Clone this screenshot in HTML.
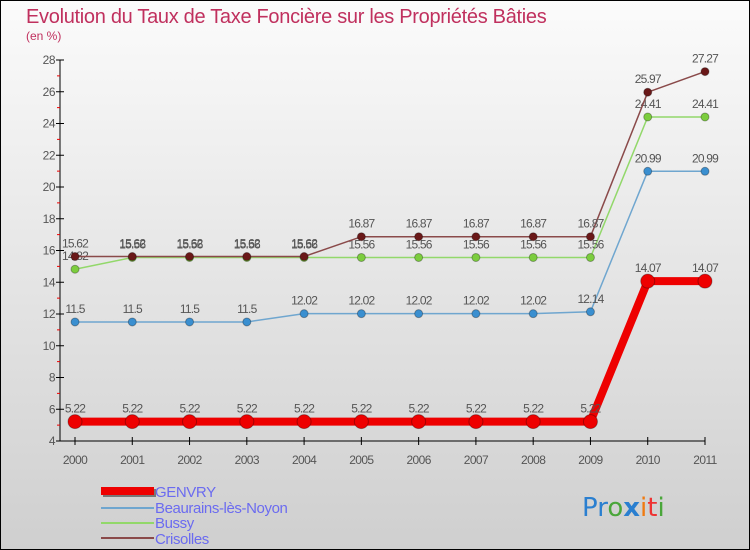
<!DOCTYPE html>
<html><head><meta charset="utf-8"><style>
body{margin:0;width:750px;height:550px;overflow:hidden;font-family:"Liberation Sans",sans-serif}
svg{display:block}
</style></head><body>
<svg id="c" width="750" height="550" xmlns="http://www.w3.org/2000/svg">
<defs><linearGradient id="bg" x1="0" y1="0" x2="0" y2="1"><stop offset="0" stop-color="#fbfbfb"/><stop offset="1" stop-color="#cfcfcf"/></linearGradient></defs>
<rect x="0.5" y="0.5" width="749" height="549" fill="url(#bg)" stroke="#000"/>
<text x="26" y="23" font-size="20" fill="#c0305e" letter-spacing="-0.3">Evolution du Taux de Taxe Foncière sur les Propriétés Bâties</text>
<text x="26" y="40" font-size="12" fill="#c0305e">(en %)</text>
<g id="axes"></g><g id="series"></g>
<g>
<rect x="103" y="489" width="53" height="8" fill="#777"/>
<rect x="101" y="487" width="53" height="8" fill="#e00"/>
<line x1="101" y1="508" x2="154" y2="508" stroke="#6fa6cf" stroke-width="2"/>
<line x1="101" y1="523" x2="154" y2="523" stroke="#92d86a" stroke-width="2"/>
<line x1="101" y1="538" x2="154" y2="538" stroke="#8a4a4a" stroke-width="2"/>
<g font-size="15" fill="#6b6bf0" letter-spacing="-0.4">
<text x="155" y="497">GENVRY</text>
<text x="155" y="513">Beaurains-lès-Noyon</text>
<text x="155" y="528">Bussy</text>
<text x="155" y="544">Crisolles</text>
</g></g>
<g font-size="26" font-family="DejaVu Sans,sans-serif">
<text x="582" y="516"><tspan fill="#2a7fd0">Pr</tspan><tspan fill="#4aa63a">o</tspan><tspan fill="#2a7fd0" font-weight="bold">x</tspan><tspan fill="#f07a10">i</tspan><tspan fill="#e33">t</tspan><tspan fill="#4aa63a">i</tspan></text>
</g>
</svg>
<script>
const years=[2000,2001,2002,2003,2004,2005,2006,2007,2008,2009,2010,2011];
const yTicks=[4,6,8,10,12,14,16,18,20,22,24,26,28];
const genvry=[5.22,5.22,5.22,5.22,5.22,5.22,5.22,5.22,5.22,5.22,14.07,14.07];
const beaurains=[11.5,11.5,11.5,11.5,12.02,12.02,12.02,12.02,12.02,12.14,20.99,20.99];
const bussy=[14.82,15.56,15.56,15.56,15.56,15.56,15.56,15.56,15.56,15.56,24.41,24.41];
const crisolles=[15.62,15.62,15.62,15.62,15.62,16.87,16.87,16.87,16.87,16.87,25.97,27.27];
const NS="http://www.w3.org/2000/svg";
const X=i=>75+i*(630/11);
const Y=v=>441-(v-4)*(381/24);
function mk(t,a,p){const e=document.createElementNS(NS,t);for(const k in a)e.setAttribute(k,a[k]);p.appendChild(e);return e;}
const ax=document.getElementById('axes');
let l=mk('line',{x1:60,y1:Y(28),x2:60,y2:Y(4),stroke:'#000'},ax);


l=mk('line',{x1:60,y1:Y(4),x2:X(11),y2:Y(4),stroke:'#000'},ax);


for(let v=5;v<28;v+=2){mk('line',{x1:57,x2:60,y1:Y(v),y2:Y(v),stroke:'#e00'},ax);}
yTicks.forEach(v=>{mk('line',{x1:56,x2:64,y1:Y(v),y2:Y(v),stroke:'#000'},ax);
const t=mk('text',{x:55,y:Y(v)+4,'font-size':12,fill:'#555','text-anchor':'end','letter-spacing':'-0.5'},ax);t.textContent=v;

});
years.forEach((y,i)=>{mk('line',{x1:X(i),x2:X(i),y1:Y(4)-4,y2:Y(4)+4,stroke:'#000'},ax);
const t=mk('text',{x:X(i),y:Y(4)+23,'font-size':12,fill:'#555','text-anchor':'middle','letter-spacing':'-0.6'},ax);t.textContent=y;

});
const sg=document.getElementById('series');
function draw(vals,name,col,lw,r,dot){
const g=mk('g',{},sg);


mk('polyline',{points:vals.map((v,i)=>X(i)+','+Y(v)).join(' '),fill:'none',stroke:col,'stroke-width':lw},g);
vals.forEach((v,i)=>{const c=mk('circle',{cx:X(i),cy:Y(v),r:r,fill:dot,stroke:'rgba(0,0,0,0.3)'},g);


const t=mk('text',{x:X(i),y:Y(v)-9,'font-size':12,fill:'#555','text-anchor':'middle','letter-spacing':'-0.8'},g);
t.textContent=String(v);

});
}
draw(beaurains,'beaurains','#6fa6cf',1.5,4,'#3a8fd0');
draw(bussy,'bussy','#92d86a',1.5,4,'#7ccd3e');
draw(crisolles,'crisolles','#8a4a4a',1.5,4,'#6a1818');
draw(genvry,'genvry','#e00',8,7,'#e00');
</script>
</body></html>
